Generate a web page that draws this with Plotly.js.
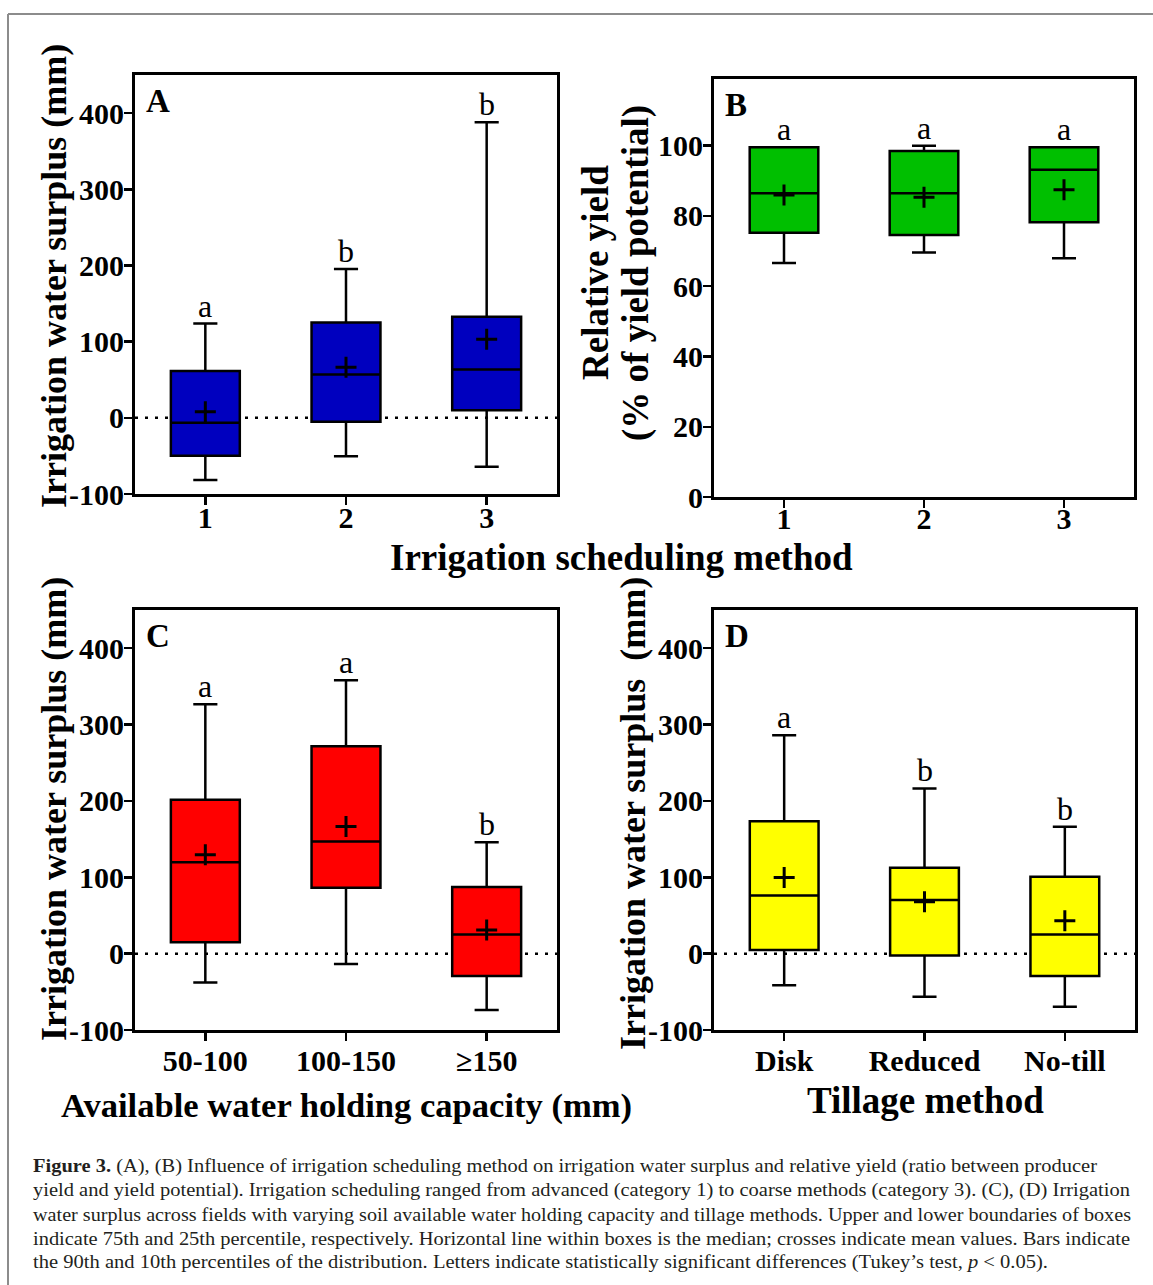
<!DOCTYPE html>
<html><head><meta charset="utf-8">
<script src="https://cdn.plot.ly/plotly-3.0.1.min.js"></script>
<style>html,body{margin:0;padding:0;background:#fff}#chart{width:1153px;height:1285px}</style>
</head><body><div id="chart"></div>
<script>
// ---------- DATA ----------
const catsA = ['1', '2', '3'];
const q1A = [-49.7, -5.2, 9.8];
const medA = [-6.6, 56.7, 63.3];
const q3A = [61.4, 125, 132.6];
const loA = [-81.5, -50.6, -64.2];
const hiA = [123.7, 195.4, 388];
const meanA = [8, 66.5, 103];
const letA = ['a', 'b', 'b'];

const catsB = ['1', '2', '3'];
const q1B = [75.2, 74.6, 78.2];
const medB = [86.5, 86.5, 93.2];
const q3B = [99.6, 98.5, 99.6];
const loB = [66.6, 69.6, 68];
const hiB = [99.6, 100, 99.6];
const meanB = [86, 85.3, 87.5];
const letB = ['a', 'a', 'a'];

const catsC = ['50-100', '100-150', '≥150'];
const q1C = [15, 86.4, -29.4];
const medC = [119.6, 146.7, 25.2];
const q3C = [201.4, 271.5, 87.4];
const loC = [-37.9, -13.6, -73.8];
const hiC = [326.6, 358, 145.8];
const meanC = [129.4, 166.4, 31];
const letC = ['a', 'a', 'b'];

const catsD = ['Disk', 'Reduced', 'No-till'];
const q1D = [4.7, -2.3, -29.4];
const medD = [76, 70.4, 25.2];
const q3D = [173.5, 112.4, 100.7];
const loD = [-41.5, -56.4, -69.5];
const hiD = [286, 216.4, 166];
const meanD = [99.8, 68, 43];
const letD = ['a', 'b', 'b'];

const surplusTicks = [-100, 0, 100, 200, 300, 400];
const surplusTickText = ['-100', '0', '100', '200', '300', '400'];
const yieldTicks = [0, 20, 40, 60, 80, 100];
const yieldTickText = ['0', '20', '40', '60', '80', '100'];

const panelLabels = ['A', 'B', 'C', 'D'];
const yTitleSurplus = 'Irrigation water surplus (mm)';
const yTitleSurplusD = 'Irrigation water surplus\u00a0 (mm)';
const yTitleB1 = 'Relative yield';
const yTitleB2 = '(% of yield potential)';
const sharedXTitle = 'Irrigation scheduling method';
const xTitleC = 'Available water holding capacity (mm)';
const xTitleD = 'Tillage method';
const captionLines = [
  '<b>Figure 3.</b> (A), (B) Influence of irrigation scheduling method on irrigation water surplus and relative yield (ratio between producer',
  'yield and yield potential). Irrigation scheduling ranged from advanced (category 1) to coarse methods (category 3). (C), (D) Irrigation',
  'water surplus across fields with varying soil available water holding capacity and tillage methods. Upper and lower boundaries of boxes',
  'indicate 75th and 25th percentile, respectively. Horizontal line within boxes is the median; crosses indicate mean values. Bars indicate',
  'the 90th and 10th percentiles of the distribution. Letters indicate statistically significant differences (Tukey’s test, <i>p</i> &lt; 0.05).'
];

// ---------- LAYOUT HELPERS ----------
const W = 1153, H = 1285;
const fx = p => p / W;
const fy = p => 1 - p / H;
const SERIF = 'Liberation Serif, Times New Roman, serif';

const panels = [
  {cats: catsA, q1: q1A, med: medA, q3: q3A, lo: loA, hi: hiA, mean: meanA, let: letA,
   color: '#0000BF', xd: [135, 557], yd: [75, 494], yr: [-100, 450], tv: surplusTicks, tt: surplusTickText, zero: true, xso: -13},
  {cats: catsB, q1: q1B, med: medB, q3: q3B, lo: loB, hi: hiB, mean: meanB, let: letB,
   color: '#00BF00', xd: [714, 1134], yd: [79, 497], yr: [0, 119], tv: yieldTicks, tt: yieldTickText, zero: false, xso: -15},
  {cats: catsC, q1: q1C, med: medC, q3: q3C, lo: loC, hi: hiC, mean: meanC, let: letC,
   color: '#FF0000', xd: [135, 557], yd: [610, 1030], yr: [-100, 450], tv: surplusTicks, tt: surplusTickText, zero: true, xso: -6},
  {cats: catsD, q1: q1D, med: medD, q3: q3D, lo: loD, hi: hiD, mean: meanD, let: letD,
   color: '#FFFF00', xd: [714, 1135], yd: [610, 1030], yr: [-100, 450], tv: surplusTicks, tt: surplusTickText, zero: true, xso: -6}
];

const data = [];
const layout = {
  width: W, height: H, margin: {l: 0, r: 0, t: 0, b: 0},
  paper_bgcolor: '#ffffff', plot_bgcolor: '#ffffff',
  showlegend: false, font: {family: SERIF, color: '#000'},
  shapes: [], annotations: []
};

const tickFont = {family: SERIF, size: 30, color: '#000', weight: 'bold'};

panels.forEach((p, i) => {
  const k = i === 0 ? '' : String(i + 1);
  data.push({
    type: 'box', xaxis: 'x' + k, yaxis: 'y' + k,
    x: p.cats, q1: p.q1, median: p.med, q3: p.q3, lowerfence: p.lo, upperfence: p.hi,
    width: 0.49, whiskerwidth: 0.35, boxpoints: false,
    fillcolor: p.color, line: {color: '#000', width: 2.5}, hoverinfo: 'skip'
  });
  data.push({
    type: 'scatter', mode: 'markers', xaxis: 'x' + k, yaxis: 'y' + k,
    x: p.cats, y: p.mean, hoverinfo: 'skip',
    marker: {symbol: 'cross-thin', size: 15, color: '#000', line: {width: 3, color: '#000'}}
  });
  const axCommon = {
    showline: true, mirror: true, linewidth: 3, linecolor: '#000',
    ticks: 'outside', ticklen: 8, tickwidth: 2.5, tickcolor: '#000',
    showgrid: false, zeroline: false, tickfont: tickFont, fixedrange: true
  };
  layout['xaxis' + k] = Object.assign({}, axCommon, {
    domain: [fx(p.xd[0]), fx(p.xd[1])], anchor: 'y' + k, type: 'category',
    range: [-0.5, 2.5], ticklabelstandoff: p.xso
  });
  layout['yaxis' + k] = Object.assign({}, axCommon, {
    domain: [fy(p.yd[1]), fy(p.yd[0])], anchor: 'x' + k,
    range: p.yr, tickmode: 'array', tickvals: p.tv, ticktext: p.tt, ticklabelstandoff: -6
  });
  if (p.zero) {
    layout.shapes.push({
      type: 'line', xref: 'x' + k + ' domain', yref: 'y' + k, x0: 0, x1: 1, y0: 0, y1: 0,
      layer: 'below', line: {color: '#000', width: 2.5, dash: '3px,7px'}
    });
  }
  // significance letters (x given as category index)
  p.cats.forEach((c, j) => {
    layout.annotations.push({
      xref: 'x' + k, yref: 'y' + k, x: j, y: p.hi[j], text: p.let[j],
      showarrow: false, yanchor: 'bottom', xanchor: 'center', yshift: -2,
      font: {family: SERIF, size: 32, color: '#000'}
    });
  });
  // panel label
  layout.annotations.push({
    xref: 'x' + k + ' domain', yref: 'y' + k + ' domain', x: 0.022, y: 0.985,
    xanchor: 'left', yanchor: 'top', showarrow: false, text: panelLabels[i],
    font: {family: SERIF, size: 33, color: '#000', weight: 'bold'}
  });
});

// axis titles as rotated / placed annotations
function addTitle(text, px, py, size, angle) {
  layout.annotations.push({
    xref: 'paper', yref: 'paper', x: fx(px), y: fy(py), xanchor: 'center', yanchor: 'middle',
    showarrow: false, text: text, textangle: angle, borderpad: 0,
    font: {family: SERIF, size: size, color: '#000', weight: 'bold'}
  });
}
addTitle(yTitleSurplus, 54, 276, 36, -90);
addTitle(yTitleB1, 595, 273, 37, -90);
addTitle(yTitleB2, 636, 273, 37, -90);
addTitle(yTitleSurplus, 54, 809, 36, -90);
addTitle(yTitleSurplusD, 633, 814, 36, -90);
addTitle(sharedXTitle, 621, 557, 37, 0);
addTitle(xTitleC, 346, 1105, 34.6, 0);
addTitle(xTitleD, 925, 1100, 37, 0);

// caption
const capY = [1166, 1190, 1214, 1238, 1262];
const capTarget = [1064, 1097, 1098, 1097, 1015];
const capIdx = [];
captionLines.forEach((t, i) => {
  capIdx.push(layout.annotations.length);
  layout.annotations.push({
    xref: 'paper', yref: 'paper', x: fx(31), y: fy(capY[i]), xanchor: 'left', yanchor: 'middle',
    align: 'left', showarrow: false, text: t,
    font: {family: SERIF, size: 19, color: '#231f20'}
  });
});

// outer grey frame
layout.shapes.push({type: 'line', xref: 'paper', yref: 'paper', x0: fx(8), x1: fx(1170), y0: fy(14), y1: fy(14),
  line: {color: '#8c8c8c', width: 2}});
layout.shapes.push({type: 'line', xref: 'paper', yref: 'paper', x0: fx(8), x1: fx(8), y0: fy(14), y1: fy(1300),
  line: {color: '#8c8c8c', width: 2}});

Plotly.newPlot('chart', data, layout, {staticPlot: true, displayModeBar: false}).then(gd => {
  capIdx.forEach((idx, i) => {
    const t = gd.querySelector('.annotation[data-index="' + idx + '"] text.annotation-text');
    if (t) {
      t.setAttribute('textLength', capTarget[i]);
      t.setAttribute('lengthAdjust', 'spacingAndGlyphs');
    }
  });
});
</script>
</body></html>
